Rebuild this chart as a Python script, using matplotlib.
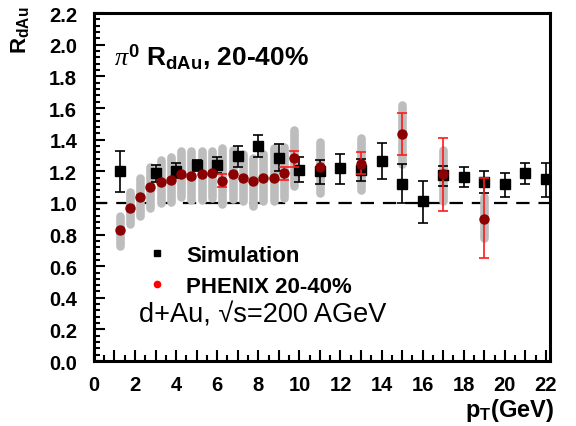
import numpy as np
import matplotlib
matplotlib.use('Agg')
import matplotlib.pyplot as plt
from matplotlib.ticker import MultipleLocator, FuncFormatter
from matplotlib.lines import Line2D

plt.rcParams['font.family'] = ['Liberation Sans', 'DejaVu Sans']
plt.rcParams['mathtext.fontset'] = 'custom'
plt.rcParams['mathtext.rm'] = 'Liberation Sans:bold'
plt.rcParams['mathtext.bf'] = 'Liberation Sans:bold'
plt.rcParams['mathtext.it'] = 'Liberation Serif:italic'

# simulation (black squares)
sim_pt = [1.25, 3, 4, 5, 6, 7, 8, 9, 10, 11, 12, 13, 14, 15, 16, 17, 18, 19, 20, 21, 22]
sim_r = [1.20, 1.186, 1.20, 1.24, 1.24, 1.295, 1.36, 1.285, 1.21, 1.20, 1.218,
         1.21, 1.267, 1.12, 1.01, 1.176, 1.166, 1.134, 1.117, 1.186, 1.149]
sim_lo = [1.067, 1.13, 1.16, 1.20, 1.19, 1.23, 1.29, 1.20, 1.13, 1.12, 1.12,
          1.14, 1.15, 0.998, 0.876, 1.11, 1.10, 1.065, 1.035, 1.117, 1.035]
sim_hi = [1.33, 1.24, 1.25, 1.27, 1.29, 1.36, 1.43, 1.37, 1.29, 1.27, 1.31,
          1.28, 1.38, 1.245, 1.14, 1.233, 1.23, 1.20, 1.19, 1.25, 1.255]

# PHENIX 20-40% (dark red circles, grey = systematic, red = statistical)
phx_pt = [1.25, 1.75, 2.25, 2.75, 3.25, 3.75, 4.25, 4.75, 5.25, 5.75, 6.25, 6.75,
          7.25, 7.75, 8.25, 8.75, 9.25, 9.75, 11, 13, 15, 17, 19]
phx_r = [0.826, 0.967, 1.04, 1.10, 1.13, 1.145, 1.18, 1.17, 1.18, 1.186, 1.14, 1.18,
         1.16, 1.137, 1.16, 1.16, 1.19, 1.287, 1.225, 1.245, 1.435, 1.18, 0.90]
sys_lo = [0.73, 0.868, 0.92, 0.97, 1.00, 1.008, 1.035, 1.02, 1.02, 1.03, 0.99, 1.025,
          1.01, 0.98, 1.01, 1.01, 1.03, 1.11, 1.06, 1.08, 1.245, 1.015, 0.778]
sys_hi = [0.916, 1.067, 1.155, 1.23, 1.27, 1.29, 1.33, 1.33, 1.33, 1.33, 1.346, 1.337,
          1.312, 1.287, 1.312, 1.346, 1.356, 1.46, 1.386, 1.41, 1.62, 1.337, 1.035]
stat_lo = [0, 0, 0, 0, 0, 0, 0, 0, 0, 0, 1.10, 0,
           0, 0, 0, 0, 1.145, 1.23, 0, 1.18, 1.30, 0.95, 0.65]
stat_hi = [0, 0, 0, 0, 0, 0, 0, 0, 0, 0, 1.18, 0,
           0, 0, 0, 0, 1.23, 1.33, 0, 1.32, 1.57, 1.41, 1.16]

fig = plt.figure(figsize=(5.76, 4.27), dpi=100)
ax = fig.add_axes([0.163, 0.152, 0.792, 0.815])

ax.axhline(1.0, color='black', lw=1.6, dashes=(6, 4), zorder=1)

# systematic bands
ax.vlines(phx_pt, sys_lo, sys_hi, color='#bdbdbd', lw=6.2, capstyle='round', zorder=2)

sim_r = np.array(sim_r)
ax.errorbar(sim_pt, sim_r, yerr=[sim_r - np.array(sim_lo), np.array(sim_hi) - sim_r],
            fmt='s', color='black', ms=6.5, lw=1.2, capsize=3.5, capthick=1.2, zorder=3)

phx_r = np.array(phx_r)
m = np.array(stat_hi) > 0
ax.errorbar(np.array(phx_pt)[m], phx_r[m],
            yerr=[phx_r[m] - np.array(stat_lo)[m], np.array(stat_hi)[m] - phx_r[m]],
            fmt='none', ecolor='#ff1a1a', lw=1.2, capsize=3.5, capthick=1.2, zorder=4)
ax.plot(phx_pt, phx_r, 'o', color='#8b0000', ms=6.5, zorder=5)

ax.set_xlim(0, 22.2)
ax.set_ylim(0, 2.2)
ax.xaxis.set_major_locator(MultipleLocator(1))
ax.xaxis.set_minor_locator(MultipleLocator(0.5))
ax.xaxis.set_major_formatter(FuncFormatter(lambda v, p: '%d' % v if int(round(v)) % 2 == 0 else ''))
ax.yaxis.set_major_locator(MultipleLocator(0.2))
ax.yaxis.set_minor_locator(MultipleLocator(0.04))
ax.yaxis.set_major_formatter(FuncFormatter(lambda v, p: '%.1f' % v))
ax.tick_params(which='both', direction='in', top=False, right=False, width=1.5,
               labelsize=14.5)
ax.tick_params(axis='y', pad=12)
ax.tick_params(axis='x', pad=10)
ax.tick_params(which='major', length=8)
ax.tick_params(which='minor', length=4)
for lab in ax.get_xticklabels() + ax.get_yticklabels():
    lab.set_fontweight('bold')
for s in ax.spines.values():
    s.set_linewidth(2.2)

fig.text(0.035, 0.93, r'R$_{\mathrm{dAu}}$', rotation=90, fontsize=16,
         fontweight='bold', ha='center', va='center')
fig.text(0.962, 0.038, r'p$_{\mathrm{T}}$(GeV)', fontsize=17, fontweight='bold',
         ha='right', va='center')

ax.text(0.045, 0.875, r'$\pi^{0}$ R$_{\mathrm{dAu}}$, 20-40%', transform=ax.transAxes,
        fontsize=19, fontweight='bold', va='center')
ax.text(0.098, 0.133, 'd+Au, \u221as=200 AGeV', transform=ax.transAxes,
        fontsize=19.5, va='center')

handles = [Line2D([], [], marker='s', color='black', ls='none', ms=4.5),
           Line2D([], [], marker='o', color='red', ls='none', ms=4.5)]
ax.legend(handles, ['Simulation', 'PHENIX 20-40%'], loc='upper left',
          bbox_to_anchor=(0.075, 0.392), frameon=False, handlelength=0.8,
          handletextpad=0.9, labelspacing=0.45, prop={'weight': 'bold', 'size': 16})

fig.savefig('out.png', dpi=100)
